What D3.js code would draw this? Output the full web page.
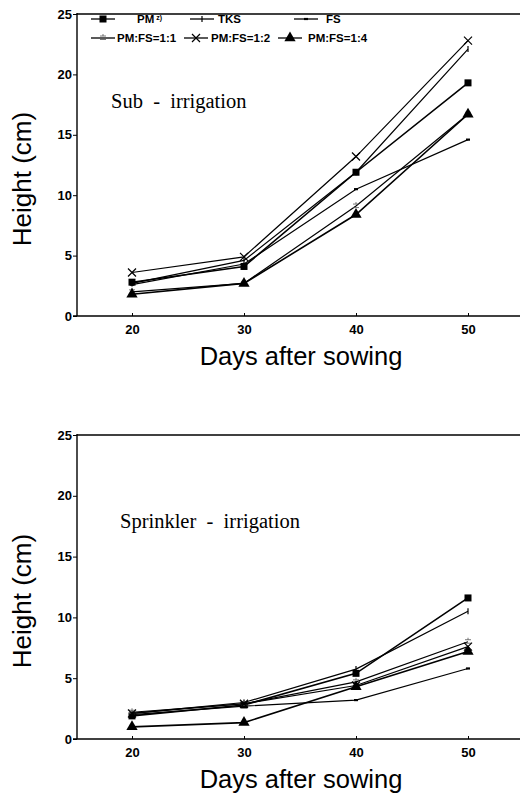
<!DOCTYPE html>
<html>
<head>
<meta charset="utf-8">
<script src="https://cdn.jsdelivr.net/npm/d3@7"></script>
<style>
  body { margin: 0; background: #fff; }
  text { font-family: "Liberation Sans", Arial, sans-serif; fill: #000; }
  text.note { font-family: "Liberation Serif", "Times New Roman", serif; }
</style>
</head>
<body>
<script>
// plant height (cm) by days after sowing, two irrigation methods

const days = [20, 30, 40, 50];
const seriesNames = ["PM", "TKS", "FS", "PM:FS=1:1", "PM:FS=1:2", "PM:FS=1:4"];
const yTicks = [0, 5, 10, 15, 20, 25];

// Sub-irrigation
const subPM   = [2.8, 4.1, 11.9, 19.3];
const subTKS  = [2.7, 4.6, 11.9, 22.1];
const subFS   = [2.6, 4.3, 10.5, 14.6];
const sub11   = [2.0, 2.7, 9.1, 16.7];
const sub12   = [3.6, 4.9, 13.2, 22.8];
const sub14   = [1.8, 2.7, 8.4, 16.7];

// Sprinkler-irrigation
const spPM    = [1.9, 2.8, 5.4, 11.6];
const spTKS   = [2.1, 3.0, 5.75, 10.5];
const spFS    = [2.0, 2.7, 3.2, 5.8];
const sp11    = [2.2, 2.9, 4.7, 8.0];
const sp12    = [2.1, 2.9, 4.4, 7.6];
const sp14    = [1.0, 1.35, 4.3, 7.2];

const W = 520, H = 800;

const svg = d3.select("body")
  .append("svg")
  .attr("width", W)
  .attr("height", H);

const x = d3.scaleLinear().domain([15, 55]).range([76, 524]);

// marker drawing per series
function drawMarker(g, i) {
  if (i === 0) {
    g.append("rect").attr("x", -3.5).attr("y", -3.5).attr("width", 7).attr("height", 7).attr("fill", "#000");
  } else if (i === 1) {
    g.append("path").attr("d", "M0,-3V3").attr("stroke", "#000").attr("stroke-width", 1.2);
  } else if (i === 2) {
    g.append("path").attr("d", "M-2,0H2").attr("stroke", "#000").attr("stroke-width", 2.2);
  } else if (i === 3) {
    g.append("path").attr("d", "M-3,-2H3M-3,1.5H3M0,-4V-2").attr("stroke", "#555")
      .attr("stroke-width", 0.8).attr("fill", "none");
  } else if (i === 4) {
    g.append("path").attr("d", "M-4,-4L4,4M-4,4L4,-4").attr("stroke", "#000").attr("stroke-width", 1.2);
  } else {
    g.append("path").attr("d", d3.symbol(d3.symbolTriangle, 55)()).attr("fill", "#000");
  }
}

function panel(top, bottom, values, label, labelY, withLegend) {
  const y = d3.scaleLinear().domain([0, 25]).range([bottom, top]);
  const g = svg.append("g");

  // frame lines
  g.append("line").attr("x1", 77).attr("x2", 520).attr("y1", top).attr("y2", top)
    .attr("stroke", "#000").attr("stroke-width", 1.5);
  g.append("line").attr("x1", 77).attr("x2", 77).attr("y1", top - 1).attr("y2", bottom)
    .attr("stroke", "#000").attr("stroke-width", 1.4);
  g.append("line").attr("x1", 73).attr("x2", 520).attr("y1", bottom).attr("y2", bottom)
    .attr("stroke", "#000").attr("stroke-width", 1.6);

  const yAxis = d3.axisLeft(y).tickValues(yTicks).tickSize(4).tickPadding(1);
  const ya = g.append("g").attr("transform", "translate(77,0)").call(yAxis);
  ya.select(".domain").remove();
  ya.selectAll("text").attr("font-size", 13).attr("font-weight", "bold");

  const xAxis = d3.axisBottom(x).tickValues(days).tickSizeInner(-3).tickSizeOuter(0).tickPadding(9);
  const xa = g.append("g").attr("transform", "translate(0," + bottom + ")").call(xAxis);
  xa.select(".domain").remove();
  xa.selectAll("text").attr("font-size", 13).attr("font-weight", "bold");

  // axis titles
  g.append("text")
    .attr("transform", "translate(31," + ((top + bottom) / 2 + 14) + ") rotate(-90)")
    .attr("text-anchor", "middle")
    .attr("font-size", 26)
    .text("Height (cm)");
  g.append("text")
    .attr("x", 301).attr("y", bottom + 49)
    .attr("text-anchor", "middle")
    .attr("font-size", 25.5)
    .text("Days after sowing");

  g.append("text")
    .attr("class", "note")
    .attr("x", label[1]).attr("y", labelY)
    .attr("font-size", 20.5)
    .style("white-space", "pre")
    .text(label[0]);

  const line = d3.line().x((d, j) => x(days[j])).y(d => y(d));

  values.forEach((vals, i) => {
    g.append("path")
      .attr("d", line(vals))
      .attr("fill", "none")
      .attr("stroke", "#000")
      .attr("stroke-width", (i === 0 || i === 5) ? 1.6 : 1.2);
    vals.forEach((v, j) => {
      const m = g.append("g").attr("transform", "translate(" + x(days[j]) + "," + y(v) + ")");
      drawMarker(m, i);
    });
  });

  if (withLegend) {
    const lineStart = [91, 190, 294, 91, 184, 278];
    const textX = [137, 218, 326, 117, 211, 308];
    const rowY = [19, 38];
    seriesNames.forEach((name, i) => {
      const ly = rowY[Math.floor(i / 3)];
      g.append("line").attr("x1", lineStart[i]).attr("x2", lineStart[i] + 24)
        .attr("y1", ly).attr("y2", ly).attr("stroke", "#000").attr("stroke-width", 1.3);
      drawMarker(g.append("g").attr("transform", "translate(" + (lineStart[i] + 12) + "," + ly + ")"), i);
      const t = g.append("text").attr("x", textX[i]).attr("y", ly + 4)
        .attr("font-size", 11.5).attr("font-weight", "bold").text(name);
      if (i === 0) {
        t.append("tspan").attr("dx", 2).attr("dy", -3).attr("font-size", 7).text("z)");
      }
    });
  }
}

panel(14, 316, [subPM, subTKS, subFS, sub11, sub12, sub14], ["Sub  -  irrigation", 111], 108, true);
panel(435, 739, [spPM, spTKS, spFS, sp11, sp12, sp14], ["Sprinkler  -  irrigation", 120], 528, false);
</script>
</body>
</html>
